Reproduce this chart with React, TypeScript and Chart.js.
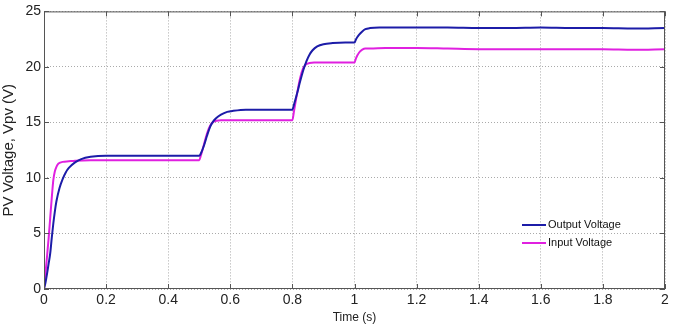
import React, { useEffect, useRef } from "react";
import { Chart, registerables } from "chart.js";

Chart.register(...registerables);

const outputTime = [0, 0.005, 0.01, 0.015, 0.02, 0.025, 0.03, 0.035, 0.04, 0.05, 0.06, 0.07, 0.08, 0.1, 0.12, 0.15, 0.2, 0.3, 0.4, 0.5, 0.505, 0.515, 0.525, 0.535, 0.545, 0.555, 0.57, 0.59, 0.61, 0.65, 0.7, 0.8, 0.805, 0.815, 0.825, 0.835, 0.845, 0.855, 0.865, 0.88, 0.9, 0.93, 0.97, 1.0, 1.005, 1.015, 1.025, 1.035, 1.05, 1.08, 1.12, 1.2, 1.3, 1.4, 1.5, 1.6, 1.7, 1.8, 1.9, 2.0];
const outputVoltage = [0, 0.6, 1.4, 2.3, 3.2, 4.6, 5.9, 7.0, 7.9, 9.1, 9.9, 10.5, 10.9, 11.4, 11.7, 11.9, 12.0, 12.0, 12.0, 12.0, 12.2, 12.9, 13.8, 14.6, 15.1, 15.4, 15.7, 15.95, 16.05, 16.15, 16.15, 16.15, 16.6, 17.6, 18.7, 19.7, 20.5, 21.1, 21.5, 21.85, 22.05, 22.15, 22.2, 22.2, 22.5, 22.9, 23.2, 23.4, 23.5, 23.55, 23.55, 23.55, 23.55, 23.5, 23.5, 23.55, 23.5, 23.5, 23.45, 23.5];

const inputTime = [0, 0.005, 0.01, 0.015, 0.02, 0.025, 0.03, 0.035, 0.04, 0.045, 0.05, 0.06, 0.08, 0.1, 0.15, 0.2, 0.3, 0.4, 0.5, 0.505, 0.515, 0.525, 0.535, 0.545, 0.555, 0.57, 0.6, 0.7, 0.8, 0.805, 0.815, 0.825, 0.835, 0.845, 0.855, 0.87, 0.9, 0.95, 1.0, 1.005, 1.015, 1.025, 1.035, 1.05, 1.1, 1.2, 1.3, 1.4, 1.5, 1.6, 1.7, 1.8, 1.9, 2.0];
const inputVoltage = [0, 1.5, 3.0, 4.6, 6.4, 8.2, 9.8, 10.6, 11.0, 11.25, 11.35, 11.45, 11.5, 11.55, 11.6, 11.6, 11.6, 11.6, 11.6, 12.0, 13.0, 14.0, 14.7, 15.05, 15.15, 15.2, 15.2, 15.2, 15.2, 16.0, 17.6, 19.0, 19.9, 20.25, 20.35, 20.4, 20.4, 20.4, 20.4, 20.8, 21.3, 21.55, 21.65, 21.65, 21.7, 21.7, 21.65, 21.6, 21.6, 21.6, 21.6, 21.6, 21.55, 21.6];

const xTicks = [0, 0.2, 0.4, 0.6, 0.8, 1, 1.2, 1.4, 1.6, 1.8, 2];
const yTicks = [0, 5, 10, 15, 20, 25];

const FONT = "'Liberation Sans Narrow', 'Liberation Sans', Arial, sans-serif";

const boxPlugin = {
  id: "matlabBox",
  afterDatasetsDraw(chart: any) {
    const { ctx, chartArea: a, scales } = chart;
    ctx.save();
    ctx.strokeStyle = "#555";
    ctx.lineWidth = 1;
    ctx.strokeRect(a.left + 0.5, a.top + 0.5, a.right - a.left - 1, a.bottom - a.top - 1);
    const t = 5;
    ctx.beginPath();
    for (const v of xTicks) {
      const x = Math.round(scales.x.getPixelForValue(v)) + 0.5;
      ctx.moveTo(x, a.bottom);
      ctx.lineTo(x, a.bottom - t);
      ctx.moveTo(x, a.top);
      ctx.lineTo(x, a.top + t);
    }
    for (const v of yTicks) {
      const y = Math.round(scales.y.getPixelForValue(v)) + 0.5;
      ctx.moveTo(a.left, y);
      ctx.lineTo(a.left + t, y);
      ctx.moveTo(a.right, y);
      ctx.lineTo(a.right - t, y);
    }
    ctx.stroke();
    // legend
    const lx = 522;
    let ly = 225;
    ctx.font = `11px ${FONT}`;
    ctx.textBaseline = "middle";
    chart.data.datasets.forEach((ds: any) => {
      ctx.strokeStyle = ds.borderColor;
      ctx.lineWidth = 2;
      ctx.beginPath();
      ctx.moveTo(lx, ly);
      ctx.lineTo(lx + 24, ly);
      ctx.stroke();
      ctx.fillStyle = "#111";
      ctx.fillText(ds.label, lx + 26, ly);
      ly += 18;
    });
    ctx.restore();
  },
};

export default function App() {
  const ref = useRef<HTMLCanvasElement>(null);
  useEffect(() => {
    document.body.style.margin = "0";
    const chart = new Chart(ref.current!, {
      type: "line",
      data: {
        datasets: [
          {
            label: "Output Voltage",
            data: outputTime.map((t, i) => ({ x: t, y: outputVoltage[i] })),
            borderColor: "#1c1ca8",
            borderWidth: 2,
            pointRadius: 0,
            cubicInterpolationMode: "monotone",
          },
          {
            label: "Input Voltage",
            data: inputTime.map((t, i) => ({ x: t, y: inputVoltage[i] })),
            borderColor: "#e020e0",
            borderWidth: 2,
            pointRadius: 0,
            cubicInterpolationMode: "monotone",
          },
        ],
      },
      options: {
        animation: false,
        responsive: false,
        layout: { padding: { top: 9, right: 21, left: 0, bottom: 0 } },
        plugins: { legend: { display: false }, tooltip: { enabled: false } },
        scales: {
          x: {
            type: "linear",
            min: 0,
            max: 2,
            afterBuildTicks: (s: any) => {
              s.ticks = xTicks.map((v) => ({ value: v }));
            },
            afterFit: (s: any) => {
              s.height = 36;
            },
            ticks: {
              color: "#222",
              font: { family: FONT, size: 14 },
              padding: 3,
              maxRotation: 0,
              callback: (v: any) => String(v),
            },
            grid: { color: "#aaa", drawTicks: false, lineWidth: 1 },
            border: { display: false, dash: [1, 2] } as any,
            title: {
              display: true,
              text: "Time (s)",
              color: "#222",
              font: { family: FONT, size: 12 },
              padding: { top: -2, bottom: 0 },
            },
          },
          y: {
            type: "linear",
            min: 0,
            max: 25,
            afterBuildTicks: (s: any) => {
              s.ticks = yTicks.map((v) => ({ value: v }));
            },
            afterFit: (s: any) => {
              s.width = 44;
            },
            ticks: {
              color: "#222",
              font: { family: FONT, size: 14 },
              padding: 3,
            },
            grid: { color: "#aaa", drawTicks: false, lineWidth: 1 },
            border: { display: false, dash: [1, 2] } as any,
            title: {
              display: true,
              text: "PV Voltage, Vpv (V)",
              color: "#222",
              font: { family: FONT, size: 15 },
              padding: { top: 0, bottom: 1 },
            },
          },
        },
      },
      plugins: [boxPlugin],
    });
    return () => chart.destroy();
  }, []);
  return <canvas ref={ref} width={686} height={325} style={{ display: "block" }} />;
}
